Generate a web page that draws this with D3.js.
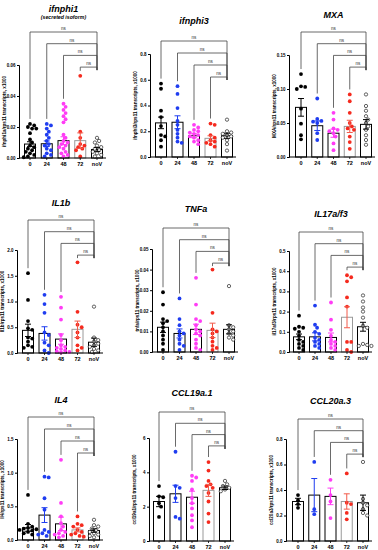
<!DOCTYPE html>
<html><head><meta charset="utf-8">
<script src="https://cdn.jsdelivr.net/npm/d3@7"></script>
<style>
html,body{margin:0;padding:0;background:#fff;}
svg text{font-family:Arial,"Liberation Sans",sans-serif;}
</style></head>
<body>
<svg id="chart" width="378" height="550"></svg>
<script>
// ---------- DATA ----------
const categories = ["0","24","48","72","noV"];
const titles = ["ifnphi1","ifnphi3","MXA","IL1b","TNFa","IL17a/f3","IL4","CCL19a.1","CCL20a.3"];
const subtitles = ["(secreted isoform)","","","","","","","",""];
const yLabels = [
  "ifnphi1a/rps11 transcripts, x1000",
  "ifnphi3/rps11 transcripts, x1000",
  "MXA/rps11 transcripts, x1000",
  "Il1b/rps11 transcripts, x1000",
  "tnfa/rps11 transcripts, x1000",
  "il17af3/rps11 transcripts, x1000",
  "Il4/rps11 transcripts, x1000",
  "ccl19a1/rps11 transcripts, x1000",
  "ccl20a3/rps11 transcripts, x1000"
];
const yMax = [0.06, 0.8, 0.15, 2.0, 0.05, 0.5, 1.5, 6, 0.8];
const yTickStep = [0.02, 0.2, 0.05, 0.5, 0.01, 0.1, 0.5, 2, 0.2];
const yTickDecimals = [2, 1, 2, 1, 2, 1, 1, 0, 1];

// individual points per group: [0, 24, 48, 72, noV]
const ifnphi1Points = [
  [0.022,0.021,0.020,0.019,0.019,0.016,0.012,0.010,0.008,0.007,0.006,0.005,0.004,0.003,0.002,0.001,0.0005],
  [0.022,0.021,0.019,0.017,0.015,0.013,0.011,0.009,0.008,0.006,0.005,0.003,0.002,0.001],
  [0.035,0.033,0.031,0.029,0.027,0.025,0.023,0.015,0.013,0.011,0.010,0.009,0.008,0.007,0.006,0.004,0.003,0.002,0.001],
  [0.053,0.017,0.013,0.009,0.008,0.007,0.006,0.005,0.001],
  [0.013,0.011,0.010,0.008,0.007,0.006,0.005,0.004,0.003,0.002,0.001]
];
const ifnphi3Points = [
  [0.57,0.53,0.36,0.31,0.24,0.17,0.16,0.13,0.08],
  [0.55,0.49,0.38,0.28,0.25,0.21,0.18,0.15,0.12,0.11],
  [0.25,0.23,0.21,0.20,0.19,0.18,0.17,0.16,0.15,0.13,0.12,0.10],
  [0.26,0.25,0.17,0.15,0.13,0.12,0.11,0.10,0.08],
  [0.29,0.20,0.19,0.18,0.17,0.16,0.15,0.13,0.10,0.05]
];
const mxaPoints = [
  [0.122,0.104,0.103,0.100,0.071,0.049,0.032,0.026],
  [0.086,0.056,0.053,0.052,0.050,0.035,0.025],
  [0.065,0.055,0.042,0.040,0.038,0.035,0.030,0.020,0.010],
  [0.092,0.082,0.065,0.050,0.045,0.042,0.040,0.030,0.022,0.012],
  [0.092,0.075,0.068,0.060,0.055,0.050,0.045,0.040,0.032,0.025,0.018]
];
const il1bPoints = [
  [1.55,1.03,0.62,0.48,0.45,0.30,0.28,0.22,0.15,0.12,0.10],
  [1.13,0.95,0.78,0.40,0.35,0.20,0.15,0.05,0.00],
  [1.09,0.88,0.65,0.35,0.25,0.15,0.12,0.10,0.08,0.05,0.03,0.02,0.01],
  [1.76,0.80,0.55,0.50,0.40,0.30,0.15,0.10,0.05],
  [0.90,0.30,0.25,0.22,0.18,0.15,0.12,0.08,0.05,0.02]
];
const tnfaPoints = [
  [0.029,0.023,0.016,0.015,0.014,0.012,0.010,0.008,0.006,0.004,0.001],
  [0.026,0.016,0.013,0.010,0.009,0.008,0.006,0.004,0.003,0.001],
  [0.036,0.023,0.016,0.015,0.013,0.011,0.010,0.009,0.008,0.006,0.004,0.002,0.001],
  [0.040,0.019,0.011,0.010,0.009,0.007,0.005,0.003,0.002,0.001],
  [0.032,0.013,0.012,0.011,0.010,0.009,0.008,0.007,0.006]
];
const il17Points = [
  [0.18,0.125,0.12,0.115,0.10,0.08,0.06,0.05,0.04,0.03,0.02,0.01],
  [0.23,0.135,0.12,0.10,0.09,0.07,0.06,0.05,0.04,0.03,0.02],
  [0.245,0.16,0.11,0.08,0.06,0.05,0.04,0.03,0.02,0.01],
  [0.38,0.37,0.35,0.27,0.225,0.05,0.05,0.01,0.00],
  [0.28,0.25,0.22,0.20,0.17,0.13,0.12,0.04,0.035,0.03,0.03]
];
const il4Points = [
  [0.67,0.24,0.20,0.18,0.17,0.16,0.15,0.14,0.12,0.10,0.08],
  [0.94,0.93,0.62,0.45,0.15,0.12,0.10,0.08,0.06],
  [1.19,0.55,0.35,0.25,0.20,0.15,0.12,0.10,0.08,0.06,0.04],
  [0.35,0.24,0.22,0.20,0.15,0.12,0.10,0.08,0.06,0.05],
  [0.30,0.22,0.20,0.17,0.15,0.12,0.10,0.08,0.06,0.04]
];
const ccl19Points = [
  [3.2,2.6,2.55,2.2,2.0,1.4],
  [5.2,3.2,3.1,2.5,1.4,1.3],
  [3.8,3.7,3.5,3.0,2.5,2.2,1.9,1.5,1.2,0.8],
  [4.6,4.1,3.5,3.3,3.2,3.1,2.8,2.3,1.6,1.1],
  [3.5,3.3,3.2,3.1,3.0,2.9]
];
const ccl20Points = [
  [0.36,0.32,0.29,0.26],
  [0.62,0.25,0.21],
  [0.48,0.36,0.31,0.18],
  [0.53,0.30,0.29,0.22,0.17],
  [0.62,0.33,0.30,0.28,0.25,0.22,0.20]
];
const allPoints = [ifnphi1Points, ifnphi3Points, mxaPoints, il1bPoints, tnfaPoints, il17Points, il4Points, ccl19Points, ccl20Points];

// bar means and SEM per group
const means = [
  [0.0090,0.0092,0.0112,0.0112,0.0055],
  [0.265,0.270,0.165,0.145,0.165],
  [0.073,0.046,0.035,0.045,0.048],
  [0.44,0.38,0.27,0.46,0.21],
  [0.012,0.009,0.011,0.0105,0.011],
  [0.075,0.075,0.072,0.172,0.125],
  [0.18,0.37,0.24,0.15,0.14],
  [2.3,2.75,2.55,2.95,3.1],
  [0.31,0.36,0.35,0.31,0.30]
];
const sems = [
  [0.0015,0.0018,0.0025,0.005,0.0012],
  [0.045,0.050,0.015,0.020,0.020],
  [0.013,0.007,0.006,0.009,0.007],
  [0.12,0.13,0.10,0.16,0.08],
  [0.0025,0.0022,0.0025,0.0035,0.0022],
  [0.014,0.020,0.022,0.052,0.022],
  [0.05,0.11,0.10,0.03,0.025],
  [0.30,0.50,0.35,0.35,0.10],
  [0.025,0.13,0.065,0.06,0.06]
];
const groupColors = ["#000000","#1f3df0","#ff3cf5","#f52a1e","#000000"];
const errColors = ["#000000","#1f3df0","#ff3cf5","#f25a4a","#000000"];
const barStroke = ["#000000","#000000","#000000","#9a9a9a","#000000"];

// ---------- LAYOUT ----------
const layout = [
  {ax:19, cx0:30, cx1:97, top:65, bot:158, titleY:12, brTop:32, brStep:11.7},
  {ax:150, cx0:161, cx1:227, top:54, bot:157, titleY:24, brTop:41, brStep:12},
  {ax:289, cx0:301, cx1:366, top:55, bot:157, titleY:18, brTop:32, brStep:11.7},
  {ax:17, cx0:28, cx1:94, top:250, bot:353, titleY:206, brTop:220, brStep:11.7},
  {ax:152, cx0:163, cx1:229, top:249, bot:352, titleY:212, brTop:228, brStep:11.7},
  {ax:289, cx0:299, cx1:363, top:251, bot:352, titleY:217, brTop:232, brStep:11.7},
  {ax:17, cx0:28, cx1:94, top:439, bot:540, titleY:403, brTop:417, brStep:12},
  {ax:149, cx0:159, cx1:225, top:438, bot:541, titleY:396, brTop:412, brStep:11.3},
  {ax:286, cx0:298, cx1:363, top:439, bot:541, titleY:404, brTop:419, brStep:11.7}
];
const barW = 11, ptR = 1.9;

const svg = d3.select("#chart");

function swarm(vals, y, cx) {
  const placed = [];
  const sorted = vals.map((v,i)=>({v,i})).sort((a,b)=>b.v-a.v);
  const out = [];
  sorted.forEach(o => {
    const py = y(o.v);
    let chosen = 0;
    for (let k = 0; k < 20; k++) {
      const off = (k === 0) ? 0 : (k % 2 ? 1 : -1) * Math.ceil(k/2) * 2.1;
      const ok = placed.every(p => Math.hypot(p.x - (cx+off), p.y - py) >= ptR*2 - 0.3);
      if (ok) { chosen = off; break; }
      chosen = off;
    }
    placed.push({x: cx+chosen, y: py});
    out.push({x: cx+chosen, y: py, v: o.v});
  });
  return out;
}

layout.forEach((L, p) => {
  const g = svg.append("g");
  const y = d3.scaleLinear().domain([0, yMax[p]]).range([L.bot, L.top]);
  const x = d3.scalePoint().domain(categories).range([L.cx0, L.cx1]);
  const fmt = d3.format("." + yTickDecimals[p] + "f");
  const ticks = d3.range(0, yMax[p] + yTickStep[p]/2, yTickStep[p]);

  // bars
  categories.forEach((c, i) => {
    g.append("rect")
      .attr("x", x(c) - barW/2).attr("y", y(means[p][i]))
      .attr("width", barW).attr("height", y(0) - y(means[p][i]))
      .attr("fill", "#fff").attr("stroke", barStroke[i]).attr("stroke-width", 1);
  });
  // points
  categories.forEach((c, i) => {
    const pts = swarm(allPoints[p][i], y, x(c));
    g.selectAll(null).data(pts).enter().append("circle")
      .attr("cx", d => d.x).attr("cy", d => d.y).attr("r", i === 4 ? ptR - 0.25 : ptR)
      .attr("fill", i === 4 ? "#fff" : groupColors[i])
      .attr("stroke", i === 4 ? "#000" : "none").attr("stroke-width", 0.6);
  });
  // error bars
  categories.forEach((c, i) => {
    const m = means[p][i], s = sems[p][i];
    const cx = x(c);
    const eg = g.append("g").attr("stroke", errColors[i]).attr("stroke-width", 1);
    eg.append("line").attr("x1", cx).attr("x2", cx).attr("y1", y(Math.max(0, m - s))).attr("y2", y(m + s));
    eg.append("line").attr("x1", cx - 3).attr("x2", cx + 3).attr("y1", y(m + s)).attr("y2", y(m + s));
    eg.append("line").attr("x1", cx - 3).attr("x2", cx + 3).attr("y1", y(Math.max(0, m - s))).attr("y2", y(Math.max(0, m - s)));
  });

  // y axis
  const yAxis = d3.axisLeft(y).tickValues(ticks).tickFormat(fmt).tickSize(2).tickPadding(1.5);
  const ya = g.append("g").attr("transform", `translate(${L.ax},0)`).call(yAxis);
  ya.select(".domain").attr("stroke-width", 1);
  ya.selectAll("text").attr("font-size", 4.5).attr("font-weight", "bold")
    .attr("font-family", "Arial, 'Liberation Sans', sans-serif");

  // x axis
  const xa = g.append("g");
  xa.append("line").attr("x1", L.ax).attr("x2", L.cx1 + 9).attr("y1", L.bot).attr("y2", L.bot)
    .attr("stroke", "#000").attr("stroke-width", 1);
  categories.forEach(c => {
    xa.append("line").attr("x1", x(c)).attr("x2", x(c)).attr("y1", L.bot).attr("y2", L.bot + 2)
      .attr("stroke", "#000").attr("stroke-width", 0.8);
    xa.append("text").attr("x", x(c)).attr("y", L.bot + 7.5).attr("text-anchor", "middle")
      .attr("font-size", 5.5).attr("font-weight", "bold").text(c);
  });

  // y label
  g.append("text")
    .attr("transform", `translate(${L.ax - 13},${(L.top + L.bot)/2}) rotate(-90)`)
    .attr("text-anchor", "middle").attr("font-size", 4.6).attr("font-weight", "bold")
    .text(yLabels[p]);

  // title
  g.append("text").attr("x", x("48")).attr("y", L.titleY).attr("text-anchor", "middle")
    .attr("font-size", 9).attr("font-weight", "bold").attr("font-style", "italic")
    .text(titles[p]);
  if (subtitles[p]) {
    g.append("text").attr("x", x("48")).attr("y", L.titleY + 6.5).attr("text-anchor", "middle")
      .attr("font-size", 5.2).attr("font-weight", "bold").attr("font-style", "italic")
      .text(subtitles[p]);
  }

  // significance brackets (each group vs noV)
  const lowest = L.brTop + L.brStep * 3;
  ["0","24","48","72"].forEach((c, i) => {
    const by = L.brTop + L.brStep * i;
    const gmax = d3.max(allPoints[p][i].concat([means[p][i] + sems[p][i]]));
    const legBot = Math.max(by + 3, y(gmax) - 5);
    const bg = g.append("g").attr("stroke", "#444").attr("stroke-width", 0.8).attr("fill", "none");
    bg.append("path").attr("d", `M${x(c)},${legBot}V${by}H${x("noV")}V${lowest + 3}`);
    g.append("text").attr("x", (x(c) + x("noV"))/2).attr("y", by - 2).attr("text-anchor", "middle")
      .attr("font-size", 4.6).attr("fill", "#333").text("ns");
  });
});
</script>
</body></html>
